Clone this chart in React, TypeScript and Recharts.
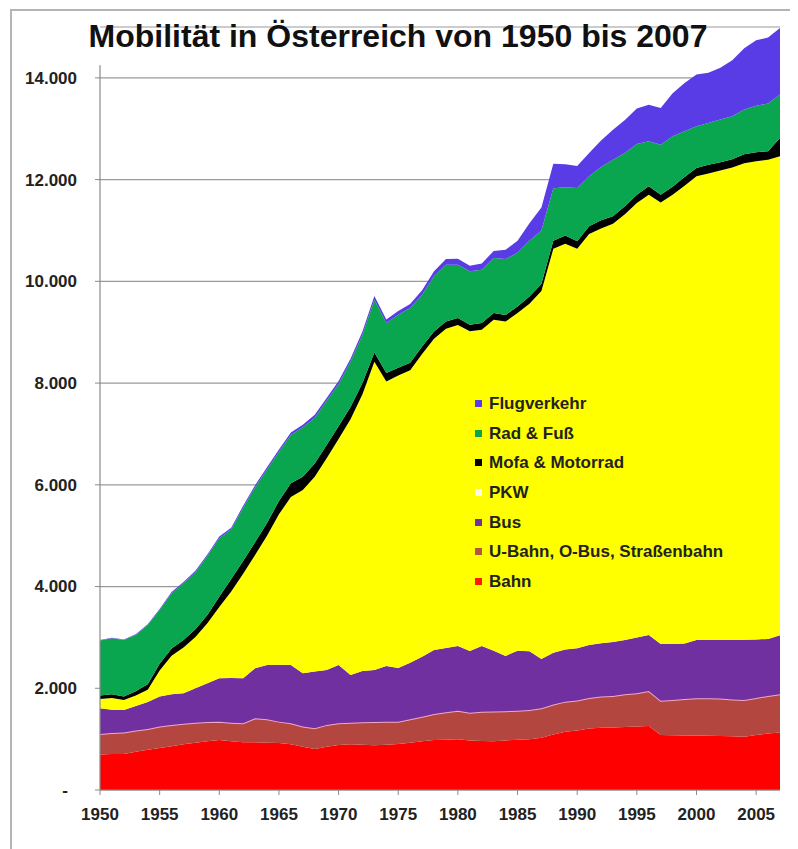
import { AreaChart, Area, XAxis, YAxis, CartesianGrid, Legend, ReferenceLine } from "recharts";

// Personenverkehr in Österreich, 1950–2007
const years = [
  1950, 1951, 1952, 1953, 1954, 1955, 1956, 1957, 1958, 1959,
  1960, 1961, 1962, 1963, 1964, 1965, 1966, 1967, 1968, 1969,
  1970, 1971, 1972, 1973, 1974, 1975, 1976, 1977, 1978, 1979,
  1980, 1981, 1982, 1983, 1984, 1985, 1986, 1987, 1988, 1989,
  1990, 1991, 1992, 1993, 1994, 1995, 1996, 1997, 1998, 1999,
  2000, 2001, 2002, 2003, 2004, 2005, 2006, 2007,
];

const bahn = [
  700, 710, 710, 750, 790, 826, 860, 900, 930, 960,
  983, 960, 940, 940, 930, 924, 900, 850, 806, 850,
  885, 900, 890, 880, 890, 905, 930, 960, 983, 990,
  997, 975, 964, 960, 975, 990, 1000, 1029, 1090, 1147,
  1170, 1210, 1226, 1230, 1240, 1250, 1259, 1082, 1075, 1070,
  1069, 1065, 1060, 1055, 1049, 1080, 1110, 1128,
];

const uBahn = [
  400, 410, 418, 420, 410, 420, 420, 400, 390, 375,
  361, 360, 371, 470, 460, 420, 410, 400, 407, 430,
  426, 420, 440, 455, 450, 439, 460, 480, 512, 540,
  563, 546, 576, 585, 575, 570, 575, 577, 590, 590,
  590, 600, 610, 620, 640, 651, 688, 675, 695, 720,
  734, 740, 740, 725, 721, 730, 740, 754,
];

const bus = [
  506, 460, 446, 480, 530, 590, 600, 601, 680, 765,
  853, 880, 886, 984, 1069, 1116, 1149, 1045, 1117, 1081,
  1148, 942, 1010, 1026, 1099, 1056, 1110, 1182, 1259, 1260,
  1272, 1213, 1292, 1195, 1086, 1180, 1155, 971, 1020, 1023,
  1027, 1040, 1049, 1060, 1071, 1099, 1102, 1115, 1100, 1090,
  1148, 1146, 1150, 1170, 1185, 1150, 1120, 1161,
];

const pkw = [
  184, 230, 196, 210, 240, 514, 760, 899, 1010, 1180,
  1403, 1700, 2053, 2226, 2541, 2960, 3301, 3605, 3830, 4159,
  4441, 5028, 5440, 6059, 5591, 5750, 5750, 5948, 6116, 6280,
  6308, 6286, 6218, 6505, 6574, 6636, 6830, 7233, 7940, 7980,
  7853, 8080, 8155, 8220, 8369, 8540, 8651, 8678, 8830, 9000,
  9113, 9169, 9230, 9290, 9365, 9400, 9420, 9414,
];

const mofa = [
  70, 70, 70, 80, 110, 130, 140, 150, 150, 160,
  200, 250, 250, 250, 250, 260, 272, 260, 260, 260,
  250, 240, 220, 180, 170, 150, 150, 150, 145, 142,
  138, 126, 130, 131, 130, 131, 140, 140, 160, 160,
  150, 151, 160, 148, 154, 160, 167, 154, 160, 170,
  164, 174, 160, 160, 180, 180, 166, 362,
];

const radFuss = [
  1077, 1103, 1110, 1109, 1165, 1060, 1089, 1116, 1120, 1160,
  1150, 970, 1050, 1080, 1050, 970, 948, 970, 900, 870,
  830, 890, 950, 1040, 980, 1043, 1075, 1017, 1083, 1115,
  1049, 1050, 1049, 1082, 1100, 1053, 1100, 1050, 1030, 950,
  1045, 983, 1050, 1114, 1049, 1000, 885, 983, 990, 900,
  819, 819, 840, 844, 880, 910, 938, 852,
];

const flug = [
  10, 10, 10, 15, 15, 20, 25, 25, 30, 30,
  35, 35, 40, 40, 45, 45, 50, 50, 55, 55,
  60, 60, 65, 70, 70, 75, 80, 90, 100, 110,
  115, 110, 120, 140, 180, 240, 340, 450, 480, 450,
  430, 460, 520, 590, 650, 700, 720, 720, 850, 950,
  1017, 990, 1020, 1100, 1200, 1290, 1300, 1311,
];

const xTicks = [1950, 1955, 1960, 1965, 1970, 1975, 1980, 1985, 1990, 1995, 2000, 2005];
const yTicks = [0, 2000, 4000, 6000, 8000, 10000, 12000, 14000];

// bottom to top
const series = [
  { key: "bahn", name: "Bahn", color: "#ff0000", legend: "#ff1a00", stroke: "none" },
  { key: "uBahn", name: "U-Bahn, O-Bus, Straßenbahn", color: "#b3463f", legend: "#b3563a", stroke: "#f0a8c8" },
  { key: "bus", name: "Bus", color: "#7030a0", legend: "#7030a0", stroke: "none" },
  { key: "pkw", name: "PKW", color: "#ffff00", legend: "#fbfbe8", stroke: "none" },
  { key: "mofa", name: "Mofa & Motorrad", color: "#000000", legend: "#000000", stroke: "none" },
  { key: "radFuss", name: "Rad & Fuß", color: "#0aa64f", legend: "#0aa64f", stroke: "none" },
  { key: "flug", name: "Flugverkehr", color: "#5a3ce6", legend: "#5a3ce6", stroke: "none" },
];

const data = years.map((year, i) => ({
  year,
  bahn: bahn[i],
  uBahn: uBahn[i],
  bus: bus[i],
  pkw: pkw[i],
  mofa: mofa[i],
  radFuss: radFuss[i],
  flug: flug[i],
}));

const FONT = "'Liberation Sans', Arial, sans-serif";

const fmt = (v: number) => (v === 0 ? "-" : `${v / 1000}.000`);

const YTick = (props: any) => {
  const { x, y, payload } = props;
  return (
    <text
      x={payload.value === 0 ? x - 9 : x}
      y={y}
      dy="0.35em"
      textAnchor="end"
      fontFamily={FONT}
      fontSize={17}
      fontWeight="bold"
      fill="#222"
    >
      {fmt(payload.value)}
    </text>
  );
};

const LegendBox = () => (
  <div style={{ fontFamily: FONT, fontSize: 17, fontWeight: "bold", color: "#222" }}>
    {[...series].reverse().map((s) => (
      <div key={s.key} style={{ height: 29.7, lineHeight: "29.7px", whiteSpace: "nowrap" }}>
        <span
          style={{
            display: "inline-block",
            width: 7,
            height: 7,
            background: s.legend,
            marginRight: 7,
            verticalAlign: "middle",
            position: "relative",
            top: -1,
          }}
        />
        {s.name}
      </div>
    ))}
  </div>
);

export default function App() {
  return (
    <div style={{ position: "relative", width: 790, height: 841, background: "#fff" }}>
      <div
        style={{
          position: "absolute",
          left: 2,
          top: 1,
          width: 788,
          height: 838,
          borderTop: "2px solid #b4b4b4",
          borderLeft: "2px solid #b4b4b4",
        }}
      />
      <div
        style={{
          position: "absolute",
          left: -5,
          top: 12,
          width: 790,
          textAlign: "center",
          fontFamily: FONT,
          fontSize: 32,
          lineHeight: "32px",
          fontWeight: "bold",
          color: "#111",
          zIndex: 2,
        }}
      >
        Mobilität in Österreich von 1950 bis 2007
      </div>
      <AreaChart width={790} height={841} data={data} margin={{ top: 19, right: 18, bottom: 29, left: 32 }}>
        <CartesianGrid vertical={false} stroke="#9a9a9a" strokeWidth={1.2} />
        <XAxis
          dataKey="year"
          type="number"
          domain={[1950, 2007]}
          ticks={xTicks}
          height={30}
          tickSize={5}
          tickMargin={13}
          stroke="#8a8a8a"
          tick={{ fontFamily: FONT, fontSize: 17, fontWeight: "bold", fill: "#222" }}
        />
        <YAxis
          type="number"
          domain={[0, 15000]}
          ticks={yTicks}
          width={60}
          tickSize={5}
          tickMargin={18}
          axisLine={false}
          stroke="#8a8a8a"
          tick={<YTick />}
        />
        {series.map((s) => (
          <Area
            key={s.key}
            dataKey={s.key}
            name={s.name}
            stackId="1"
            type="linear"
            fill={s.color}
            fillOpacity={1}
            stroke={s.stroke}
            strokeWidth={s.stroke === "none" ? 0 : 2}
            isAnimationActive={false}
          />
        ))}
        <ReferenceLine
          segment={[
            { x: 1950, y: 0 },
            { x: 1950, y: 14250 },
          ]}
          stroke="#8a8a8a"
          strokeWidth={1.2}
        />
        <Legend
          layout="vertical"
          align="center"
          verticalAlign="middle"
          content={<LegendBox />}
          wrapperStyle={{ left: 467, top: 381, width: 300 }}
        />
      </AreaChart>
    </div>
  );
}
